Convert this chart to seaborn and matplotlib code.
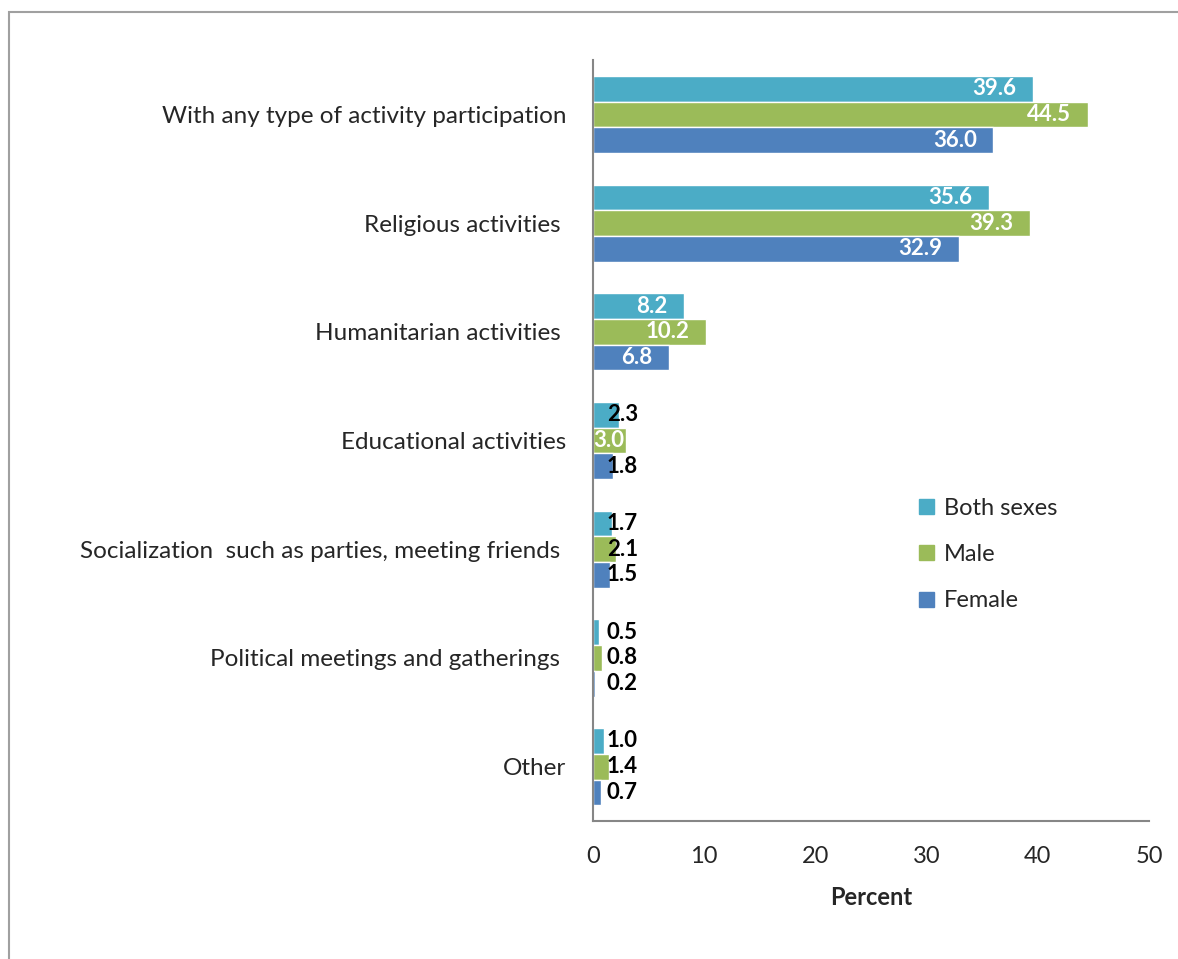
import pandas as pd
import seaborn as sns
import matplotlib.pyplot as plt
from matplotlib.patches import Rectangle

# Chart values
categories = [
    "With any type of activity participation",
    "Religious activities ",
    "Humanitarian activities ",
    "Educational activities",
    "Socialization  such as parties, meeting friends ",
    "Political meetings and gatherings ",
    "Other",
]
series = ["Both sexes", "Male", "Female"]
both_sexes = [39.6, 35.6, 8.2, 2.3, 1.7, 0.5, 1.0]
male = [44.5, 39.3, 10.2, 3.0, 2.1, 0.8, 1.4]
female = [36.0, 32.9, 6.8, 1.8, 1.5, 0.2, 0.7]
x_ticks = [0, 10, 20, 30, 40, 50]

colors = ["#4BACC6", "#9BBB59", "#4F81BD"]

df = pd.DataFrame({
    "Category": categories * 3,
    "Group": [s for s in series for _ in categories],
    "Percent": both_sexes + male + female,
})

sns.set_style("white")
plt.rcParams["font.family"] = ["Lato", "DejaVu Sans"]

fig = plt.figure(figsize=(11.78, 9.59), dpi=100)
ax = fig.add_axes([0.5034, 0.1439, 0.472, 0.7935])

sns.barplot(data=df, x="Percent", y="Category", hue="Group", orient="h",
            palette=colors, saturation=1, width=0.71, ax=ax, legend=False)

# Data labels: white inside the bar end for large values, black beside small ones
for container in ax.containers:
    for bar in container:
        v = bar.get_width()
        yc = bar.get_y() + bar.get_height() / 2
        if v >= 5:
            ax.annotate(f"{v:.1f}", (v, yc), xytext=(-12, 0), textcoords="offset points",
                        ha="right", va="center", color="white", fontsize=16, fontweight="bold")
        elif v >= 3:
            ax.annotate(f"{v:.1f}", (0, yc), xytext=(0, 0), textcoords="offset points",
                        ha="left", va="center", color="white", fontsize=16, fontweight="bold")
        else:
            ax.annotate(f"{v:.1f}", (0, yc), xytext=(10, 0), textcoords="offset points",
                        ha="left", va="center", color="black", fontsize=16, fontweight="bold")

ax.set_xlim(0, 50)
ax.set_ylim(6.5, -0.5)
ax.set_xticks(x_ticks)
ax.set_xticklabels([str(t) for t in x_ticks], fontsize=17)
ax.set_xlabel("Percent", fontsize=17, fontweight="bold", labelpad=14)
ax.set_ylabel("")
ax.tick_params(axis="y", which="major", length=0, pad=19, labelsize=17.5)
ax.set_yticks([i - 0.5 for i in range(len(categories) + 1)], minor=True)
ax.tick_params(axis="y", which="minor", length=6, width=1.2, color="#868686", direction="out")
ax.tick_params(axis="x", which="major", length=6, width=1.2, color="#868686", direction="out", pad=12)

for side in ["top", "right"]:
    ax.spines[side].set_visible(False)
for side in ["left", "bottom"]:
    ax.spines[side].set_color("#868686")
    ax.spines[side].set_linewidth(1.5)

handles = [Rectangle((0, 0), 1, 1, color=c) for c in colors]
ax.legend(handles, series, loc="upper left", bbox_to_anchor=(0.57, 0.437), frameon=False,
          fontsize=17, handlelength=0.6, handleheight=0.6, handletextpad=0.45, labelspacing=1.07,
          borderaxespad=0)

# Outer chart border
fig.patches.append(Rectangle((9 / 1178, -0.1), 1.2, 0.1 + 1 - 12 / 959, transform=fig.transFigure,
                             fill=False, edgecolor="#A0A0A0", linewidth=1.5))

fig.savefig("out.png", dpi=100)
